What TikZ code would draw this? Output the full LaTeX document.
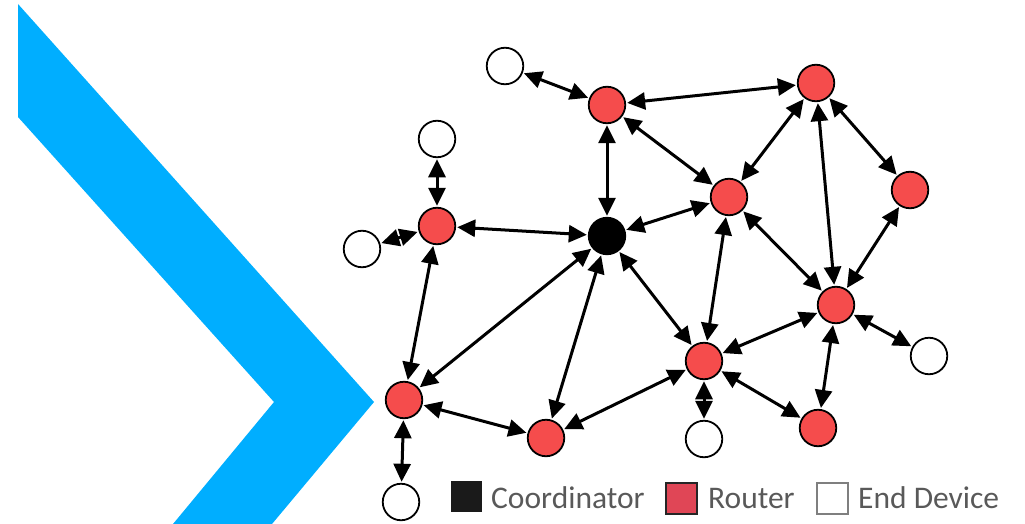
\documentclass[tikz,border=0pt]{standalone}
\usepackage{fontspec}
\setmainfont{Carlito}
\usetikzlibrary{arrows.meta}
\definecolor{chevblue}{RGB}{0,174,255}
\definecolor{routerred}{RGB}{245,76,76}
\definecolor{keyred}{RGB}{224,70,86}
\definecolor{keytext}{RGB}{89,89,89}
\definecolor{keygray}{RGB}{127,127,127}
\definecolor{keyblack}{RGB}{26,26,26}
\definecolor{keyedge}{RGB}{38,38,38}
\begin{document}
\begin{tikzpicture}[x=1pt,y=-1pt,
  dev/.style={circle,draw=black,line width=1.8pt,minimum size=36.5pt,inner sep=0pt,outer sep=2pt},
  router/.style={dev,fill=routerred},
  coordnode/.style={dev,fill=black},
  enddev/.style={dev,fill=white},
  linktip/.tip={Triangle[length=18pt,width=17pt]},
  link/.style={linktip-linktip,line width=3pt},
  keybox/.style={minimum size=31pt,inner sep=0pt,line width=2pt},
  keylabel/.style={anchor=base west,text=keytext,font=\fontsize{31.5}{36}\selectfont,inner sep=0pt}]
\useasboundingbox (0,0) rectangle (1025,524);

% chevron on the left
\fill[chevblue] (18,4) -- (374,402) -- (272,524) -- (173,524) -- (274,402) -- (18,117) -- cycle;

% network nodes
\node[coordnode] (C)   at (607,236) {};
\node[router]    (Rt)  at (607,105) {};
\node[router]    (Rtr) at (816,83)  {};
\node[router]    (Rm)  at (729,197) {};
\node[router]    (Rr)  at (910,190) {};
\node[router]    (Rrc) at (836,305) {};
\node[router]    (Rcb) at (704,361) {};
\node[router]    (Rbr) at (818,428) {};
\node[router]    (Rl)  at (437,226) {};
\node[router]    (Rbl) at (404,400) {};
\node[router]    (Rbm) at (546,438) {};
\node[enddev]    (Etl) at (505,66)  {};
\node[enddev]    (Ea)  at (437,139) {};
\node[enddev]    (Ef)  at (362,249) {};
\node[enddev]    (Ebl) at (401,502) {};
\node[enddev]    (Ebc) at (704,439) {};
\node[enddev]    (Er)  at (929,356) {};

% links
\draw[link] (Etl) -- (Rt);
\draw[link] (Rt) -- (Rtr);
\draw[link] (Rt) -- (C);
\draw[link] (Rt) -- (Rm);
\draw[link] (Rtr) -- (Rm);
\draw[link] (Rtr) -- (Rr);
\draw[link] (Rtr) -- (Rrc);
\draw[link] (Rm) -- (C);
\draw[link] (Rm) -- (Rrc);
\draw[link] (Rm) -- (Rcb);
\draw[link] (Rr) -- (Rrc);
\draw[link] (Rl) -- (C);
\draw[link] (Rl) -- (Ea);
\draw[link] (Rl) -- (Ef);
\draw[link] (Rl) -- (Rbl);
\draw[link] (C) -- (Rbl);
\draw[link] (C) -- (Rbm);
\draw[link] (C) -- (Rcb);
\draw[link] (Rbl) -- (Rbm);
\draw[link] (Rbl) -- (Ebl);
\draw[link] (Rbm) -- (Rcb);
\draw[link] (Rcb) -- (Rrc);
\draw[link] (Rcb) -- (Ebc);
\draw[link] (Rcb) -- (Rbr);
\draw[link] (Rrc) -- (Rbr);
\draw[link] (Rrc) -- (Er);

% legend
\node[keybox,fill=keyblack] (kC) at (466,496) {};
\node[keylabel] (kCt) at (491,508) {Coordinator};
\node[keybox,fill=keyred,draw=keyedge] (kR) at (681,498) {};
\node[keylabel] (kRt) at (708,508) {Router};
\node[keybox,fill=white,draw=keygray] (kE) at (832,498) {};
\node[keylabel] (kEt) at (858,508) {End Device};
\end{tikzpicture}
\end{document}
